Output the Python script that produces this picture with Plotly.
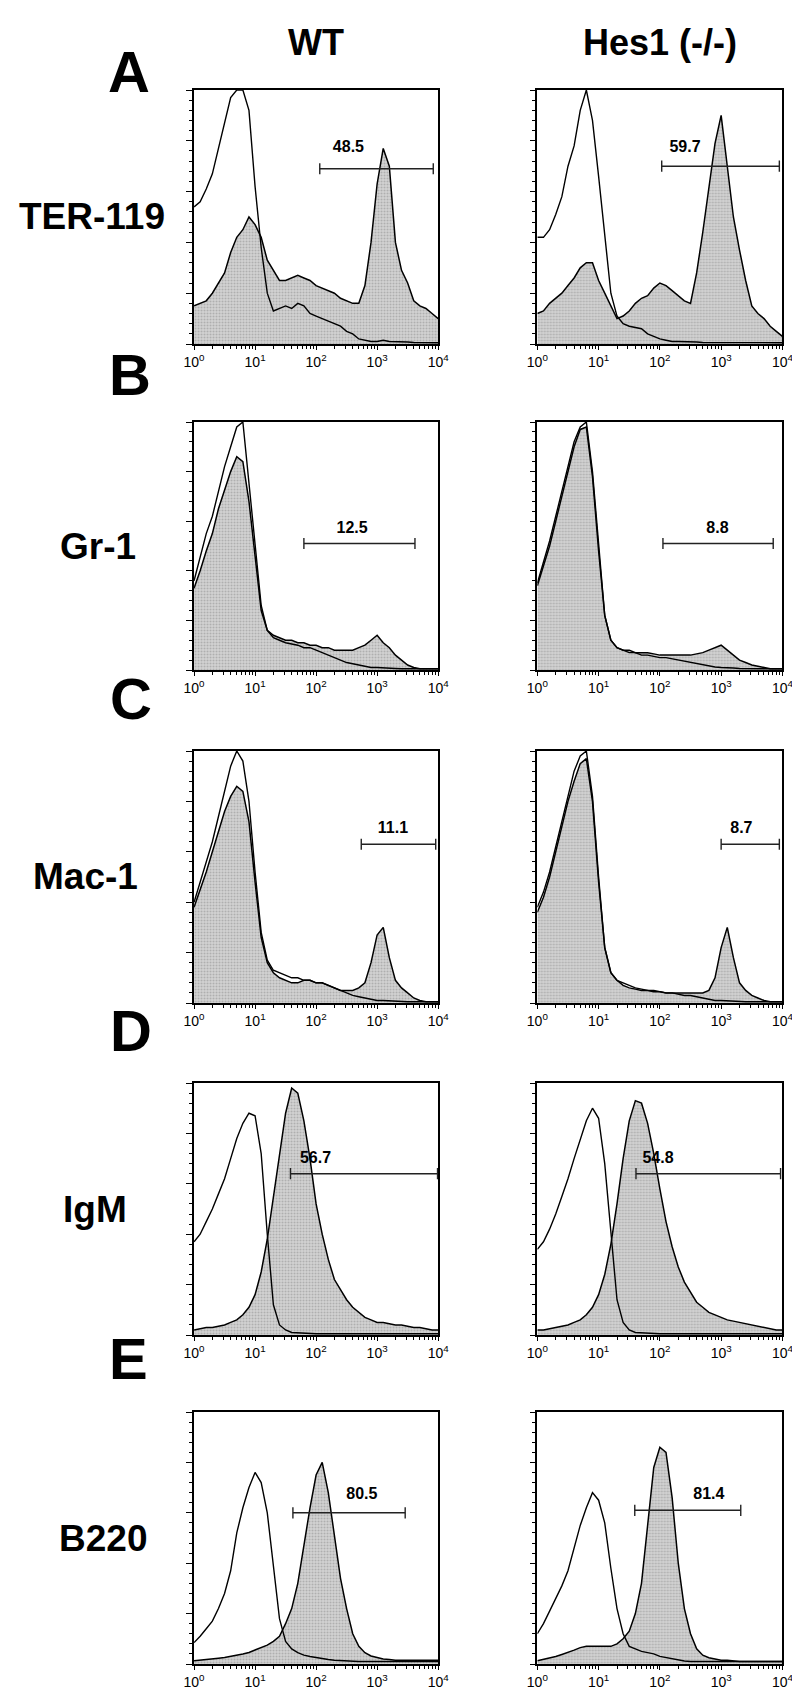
import plotly.graph_objects as go

W, H = 800, 1688
FONT = "Liberation Sans, Arial, sans-serif"

# channel positions (log10 of fluorescence), one value per 0.1 decade
DECADES = [i / 10 for i in range(41)]

# ---- histogram heights (% of panel height) ----
A_WT_OPEN = [54, 56, 61, 67, 77, 87, 97, 100, 100, 92, 62, 38, 20, 13, 14, 15, 14, 16, 15, 12,
             11, 10, 9, 8, 7, 5, 4, 2, 1.5, 1, 1, 1.5, 1, 1, 0.8, 0.8, 0.6, 0.5, 0.5, 0.5, 0.5]
A_WT_FILL = [15, 16, 17, 20, 24, 28, 36, 42, 45, 50, 47, 42, 33, 29, 25, 25, 26, 27, 26, 25,
             23, 22, 21, 20, 18, 17, 16, 16, 23, 40, 63, 77, 70, 40, 29, 24, 17, 15, 14, 12, 10]
A_KO_OPEN = [42, 42, 45, 51, 58, 70, 78, 92, 100, 88, 66, 42, 20, 11, 8, 7, 6.5, 6, 4, 3,
             2, 1.5, 1, 1, 1, 0.8, 0.8, 0.6, 0.6, 0.5, 0.5, 0.5, 0.5, 0.5, 0.5, 0.5, 0.5, 0.5, 0.5, 0.5, 0.5]
A_KO_FILL = [12, 13, 16, 18, 20, 23, 26, 30, 32, 32, 25, 20, 15, 10, 11, 13, 16, 18, 19, 22,
             24, 23, 21, 19, 17, 16, 28, 44, 62, 79, 90, 70, 50, 37, 25, 15, 12, 10, 7, 5, 3]

B_WT_OPEN = [36, 46, 55, 62, 72, 82, 90, 98, 100, 75, 50, 26, 16, 13, 12, 11, 10.5, 10, 9, 9,
             8, 7, 6, 5, 4, 3, 2.5, 2, 1.5, 1, 1, 0.8, 0.8, 0.6, 0.5, 0.5, 0.5, 0.5, 0.5, 0.5, 0.5]
B_WT_FILL = [33, 40, 48, 55, 65, 73, 80, 86, 84, 68, 45, 24, 16, 14, 13, 12, 12, 11, 11, 10,
             10, 9, 9, 8, 8, 8, 8, 9, 10, 12, 14, 11, 9, 6, 4, 2, 1, 0.5, 0.5, 0.5, 0.5]
B_KO_OPEN = [35, 43, 52, 62, 72, 82, 92, 98, 100, 80, 50, 22, 12, 9, 8, 7, 7, 6, 6, 5.5,
             5, 5, 4.5, 4, 3.5, 3, 2.5, 2, 1.5, 1.2, 1, 1, 0.8, 0.6, 0.5, 0.5, 0.5, 0.5, 0.5, 0.5, 0.5]
B_KO_FILL = [34, 42, 50, 60, 70, 80, 90, 97, 98, 78, 48, 22, 12, 9, 8, 8, 7, 7, 7, 6.5,
             6, 6, 6, 6, 6, 6, 6.5, 7, 8, 9, 10, 8, 6, 4, 3, 2, 1.5, 1, 0.5, 0.5, 0.5]

C_WT_OPEN = [40, 48, 56, 64, 74, 84, 94, 100, 96, 80, 52, 28, 17, 13, 12, 11, 10, 10, 9, 9,
             8, 8, 7, 6, 5, 4, 3, 2.5, 2, 1.5, 1, 1, 0.8, 0.6, 0.5, 0.5, 0.5, 0.5, 0.5, 0.5, 0.5]
C_WT_FILL = [38, 45, 52, 60, 68, 76, 82, 86, 84, 72, 48, 26, 16, 12, 10, 9, 8, 8, 9, 9,
             8, 8, 7, 6, 5, 5, 5, 6, 8, 16, 27, 30, 18, 9, 6, 4, 2, 1, 0.5, 0.5, 0.5]
C_KO_OPEN = [38, 44, 52, 62, 72, 82, 92, 98, 100, 82, 50, 22, 12, 9, 8, 7, 6, 5.5, 5, 5,
             4.5, 4, 4, 3.5, 3, 3, 2.5, 2, 1.5, 1, 1, 0.8, 0.6, 0.5, 0.5, 0.5, 0.5, 0.5, 0.5, 0.5, 0.5]
C_KO_FILL = [36, 42, 50, 60, 70, 80, 88, 95, 97, 80, 48, 22, 12, 9, 7, 6, 5.5, 5, 5, 4.5,
             4.5, 4, 4, 4, 4, 4, 4, 4, 5, 10, 22, 30, 18, 8, 5, 3, 2, 1, 0.5, 0.5, 0.5]

D_WT_OPEN = [37, 40, 45, 50, 56, 62, 70, 78, 84, 88, 87, 72, 40, 12, 4, 2, 1, 0.8, 0.6, 0.5,
             0.5, 0.5, 0.5, 0.5, 0.5, 0.5, 0.5, 0.5, 0.5, 0.5, 0.5, 0.5, 0.5, 0.5, 0.5, 0.5, 0.5, 0.5, 0.5, 0.5, 0.5]
D_WT_FILL = [2, 2.5, 3, 3, 3.5, 4, 5, 6, 8, 11, 16, 25, 38, 55, 72, 88, 98, 96, 85, 70,
             52, 40, 30, 22, 18, 14, 11, 9, 7, 6, 5, 5, 4.5, 4, 4, 3.5, 3, 3, 2.5, 2, 2]
D_KO_OPEN = [34, 37, 42, 48, 55, 62, 70, 78, 85, 90, 86, 68, 40, 14, 5, 2, 1, 0.8, 0.6, 0.5,
             0.5, 0.5, 0.5, 0.5, 0.5, 0.5, 0.5, 0.5, 0.5, 0.5, 0.5, 0.5, 0.5, 0.5, 0.5, 0.5, 0.5, 0.5, 0.5, 0.5, 0.5]
D_KO_FILL = [2, 2, 2.5, 3, 3.5, 4, 5, 6, 8, 11, 16, 24, 36, 52, 70, 85, 93, 92, 84, 72,
             58, 45, 35, 27, 21, 17, 13, 11, 9, 8, 7, 6, 5.5, 5, 4.5, 4, 3.5, 3, 2.5, 2, 2]

E_WT_OPEN = [8.5, 11, 14, 17, 22, 28, 37, 52, 62, 70, 76, 72, 60, 38, 18, 9, 6, 4.5, 3.5, 3,
             2.5, 2, 1.8, 1.5, 1.3, 1.2, 1, 1, 1, 1, 1, 1, 1, 1, 1, 1, 1, 1, 1, 1, 1]
E_WT_FILL = [1.3, 1.5, 1.8, 2, 2.3, 2.6, 3, 3.5, 4, 4.6, 5.5, 6.5, 7.5, 9, 11, 16, 22, 32, 47, 62,
             75, 80, 68, 50, 34, 22, 12, 7, 4.5, 3.2, 2.5, 2, 1.8, 1.5, 1.5, 1.5, 1.5, 1.5, 1.5, 1.5, 1.5]
E_KO_OPEN = [12, 16, 21, 26, 31, 37, 46, 55, 62, 68, 65, 56, 38, 22, 12, 7, 6, 5, 4.5, 4,
             3, 2.5, 2, 1.5, 1.2, 1, 1, 1, 1, 1, 1, 1, 1, 1, 1, 1, 1, 1, 1, 1, 1]
E_KO_FILL = [1.3, 1.8, 2.2, 3, 3.8, 4.5, 5.5, 6.5, 7, 7, 7, 7, 7, 8, 10, 13, 20, 32, 55, 78,
             86, 84, 66, 40, 22, 12, 6, 3.5, 2.5, 2, 1.5, 1.5, 1.2, 1, 1, 1, 1, 1, 1, 1, 1]

# ---- gates: y level (%), start & end (log10), label, label position ----
GATES = {
    "A_WT": (69, 2.06, 3.92, "48.5", 2.53, 77),
    "A_KO": (70, 2.03, 3.95, "59.7", 2.41, 77),
    "B_WT": (51, 1.80, 3.62, "12.5", 2.59, 57),
    "B_KO": (51, 2.05, 3.85, "8.8", 2.94, 57),
    "C_WT": (63, 2.74, 3.96, "11.1", 3.26, 69),
    "C_KO": (63, 3.00, 3.95, "8.7", 3.33, 69),
    "D_WT": (64, 1.58, 3.99, "56.7", 1.99, 70),
    "D_KO": (64, 1.61, 3.97, "54.8", 1.97, 70),
    "E_WT": (60, 1.62, 3.46, "80.5", 2.75, 67),
    "E_KO": (61, 1.59, 3.32, "81.4", 2.80, 67),
}

ROWS = ["A", "B", "C", "D", "E"]
MARKERS = ["TER-119", "Gr-1", "Mac-1", "IgM", "B220"]
COLUMNS = ["WT", "Hes1 (-/-)"]
DATA = {
    "A_WT": (A_WT_OPEN, A_WT_FILL), "A_KO": (A_KO_OPEN, A_KO_FILL),
    "B_WT": (B_WT_OPEN, B_WT_FILL), "B_KO": (B_KO_OPEN, B_KO_FILL),
    "C_WT": (C_WT_OPEN, C_WT_FILL), "C_KO": (C_KO_OPEN, C_KO_FILL),
    "D_WT": (D_WT_OPEN, D_WT_FILL), "D_KO": (D_KO_OPEN, D_KO_FILL),
    "E_WT": (E_WT_OPEN, E_WT_FILL), "E_KO": (E_KO_OPEN, E_KO_FILL),
}
XTICKS = [1, 10, 100, 1000, 10000]
XTICKTEXT = ["10<sup>0</sup>", "10<sup>1</sup>", "10<sup>2</sup>", "10<sup>3</sup>", "10<sup>4</sup>"]

# ---- layout geometry (pixels) ----
COL_X = [(180, 431), (533, 785)]
ROW_Y = [(82, 336), (414, 662), (743, 995), (1075, 1327), (1404, 1656)]
LETTER_Y = [64, 366, 690, 1022, 1350]
LETTER_X = [113, 114, 115, 115, 113]
MARKER_X = [75, 81, 68, 78, 86]

fig = go.Figure()
xs = [10 ** d for d in DECADES]
minor_vals = [m * 10 ** e for e in range(4) for m in range(2, 10)]

layout = dict(width=W, height=H, margin=dict(l=0, r=0, t=0, b=0),
              paper_bgcolor="white", plot_bgcolor="white", showlegend=False,
              font=dict(family=FONT, color="black"))
annotations = []

n = 0
for r, row in enumerate(ROWS):
    for c, key in enumerate(["WT", "KO"]):
        n += 1
        name = f"{row}_{key}"
        sfx = "" if n == 1 else str(n)
        xa, ya = f"x{sfx}", f"y{sfx}"
        x0, x1 = COL_X[c]
        y0, y1 = ROW_Y[r]
        layout[f"xaxis{sfx}"] = dict(
            domain=[x0 / W, x1 / W], anchor=ya, type="log", range=[0, 4],
            showline=True, mirror=True, linecolor="black", linewidth=1.6,
            ticks="outside", ticklen=4, tickwidth=1.2, tickcolor="black",
            tickvals=XTICKS, ticktext=XTICKTEXT, showgrid=False, zeroline=False,
            tickfont=dict(family=FONT, size=14, color="black"),
            minor=dict(ticks="outside", ticklen=3, tickwidth=1, tickcolor="black",
                       tickvals=minor_vals, showgrid=False),
            fixedrange=True)
        layout[f"yaxis{sfx}"] = dict(
            domain=[1 - y1 / H, 1 - y0 / H], anchor=xa, range=[0, 100],
            showline=True, mirror=True, linecolor="black", linewidth=1.6,
            ticks="outside", ticklen=6, tickwidth=1.2, tickcolor="black",
            tickvals=[0, 20, 40, 60, 80, 100], showticklabels=False,
            showgrid=False, zeroline=False,
            minor=dict(ticks="outside", ticklen=3.5, tickwidth=1, tickcolor="black",
                       dtick=4, showgrid=False),
            fixedrange=True)
        op, fl = DATA[name]
        fig.add_trace(go.Scatter(x=xs, y=fl, mode="lines", xaxis=xa, yaxis=ya,
                                 line=dict(color="black", width=1.5, shape="linear"),
                                 fill="tozeroy", fillcolor="#c4c4c4",
                                 fillpattern=dict(shape=".", fgcolor="#8a8a8a", bgcolor="#d2d2d2",
                                                  size=3, solidity=0.35),
                                 hoverinfo="skip"))
        fig.add_trace(go.Scatter(x=xs, y=op, mode="lines", xaxis=xa, yaxis=ya,
                                 line=dict(color="black", width=1.4, shape="linear"),
                                 hoverinfo="skip"))
        gy, glo, ghi, lab, lx, ly = GATES[name]
        fig.add_trace(go.Scatter(x=[10 ** glo, 10 ** ghi], y=[gy, gy], mode="lines+markers",
                                 xaxis=xa, yaxis=ya,
                                 line=dict(color="#222", width=1.4),
                                 marker=dict(symbol="line-ns-open", size=8,
                                             line=dict(color="#222", width=1.4)),
                                 hoverinfo="skip"))
        fig.add_trace(go.Scatter(x=[10 ** lx], y=[ly], mode="text", text=[lab],
                                 xaxis=xa, yaxis=ya,
                                 textfont=dict(family=FONT, size=16, color="black"),
                                 texttemplate="<b>%{text}</b>", hoverinfo="skip"))

# column titles
for c, title in enumerate(COLUMNS):
    xc = (COL_X[c][0] + COL_X[c][1]) / 2
    annotations.append(dict(x=xc / W, y=1 - 34 / H, xref="paper", yref="paper",
                            text=f"<b>{title}</b>", showarrow=False,
                            font=dict(family=FONT, size=36, color="black"),
                            xanchor="center", yanchor="middle"))
# row letters and marker labels
for r, row in enumerate(ROWS):
    annotations.append(dict(x=LETTER_X[r] / W, y=1 - LETTER_Y[r] / H, xref="paper", yref="paper",
                            text=f"<b>{row}</b>", showarrow=False,
                            font=dict(family=FONT, size=58, color="black"),
                            xanchor="center", yanchor="middle"))
    yc = (ROW_Y[r][0] + ROW_Y[r][1]) / 2
    annotations.append(dict(x=MARKER_X[r] / W, y=1 - yc / H, xref="paper", yref="paper",
                            text=f"<b>{MARKERS[r]}</b>", showarrow=False,
                            font=dict(family=FONT, size=37, color="black"),
                            xanchor="center", yanchor="middle"))

layout["annotations"] = annotations
fig.update_layout(**layout)
fig.write_html("out.html")
